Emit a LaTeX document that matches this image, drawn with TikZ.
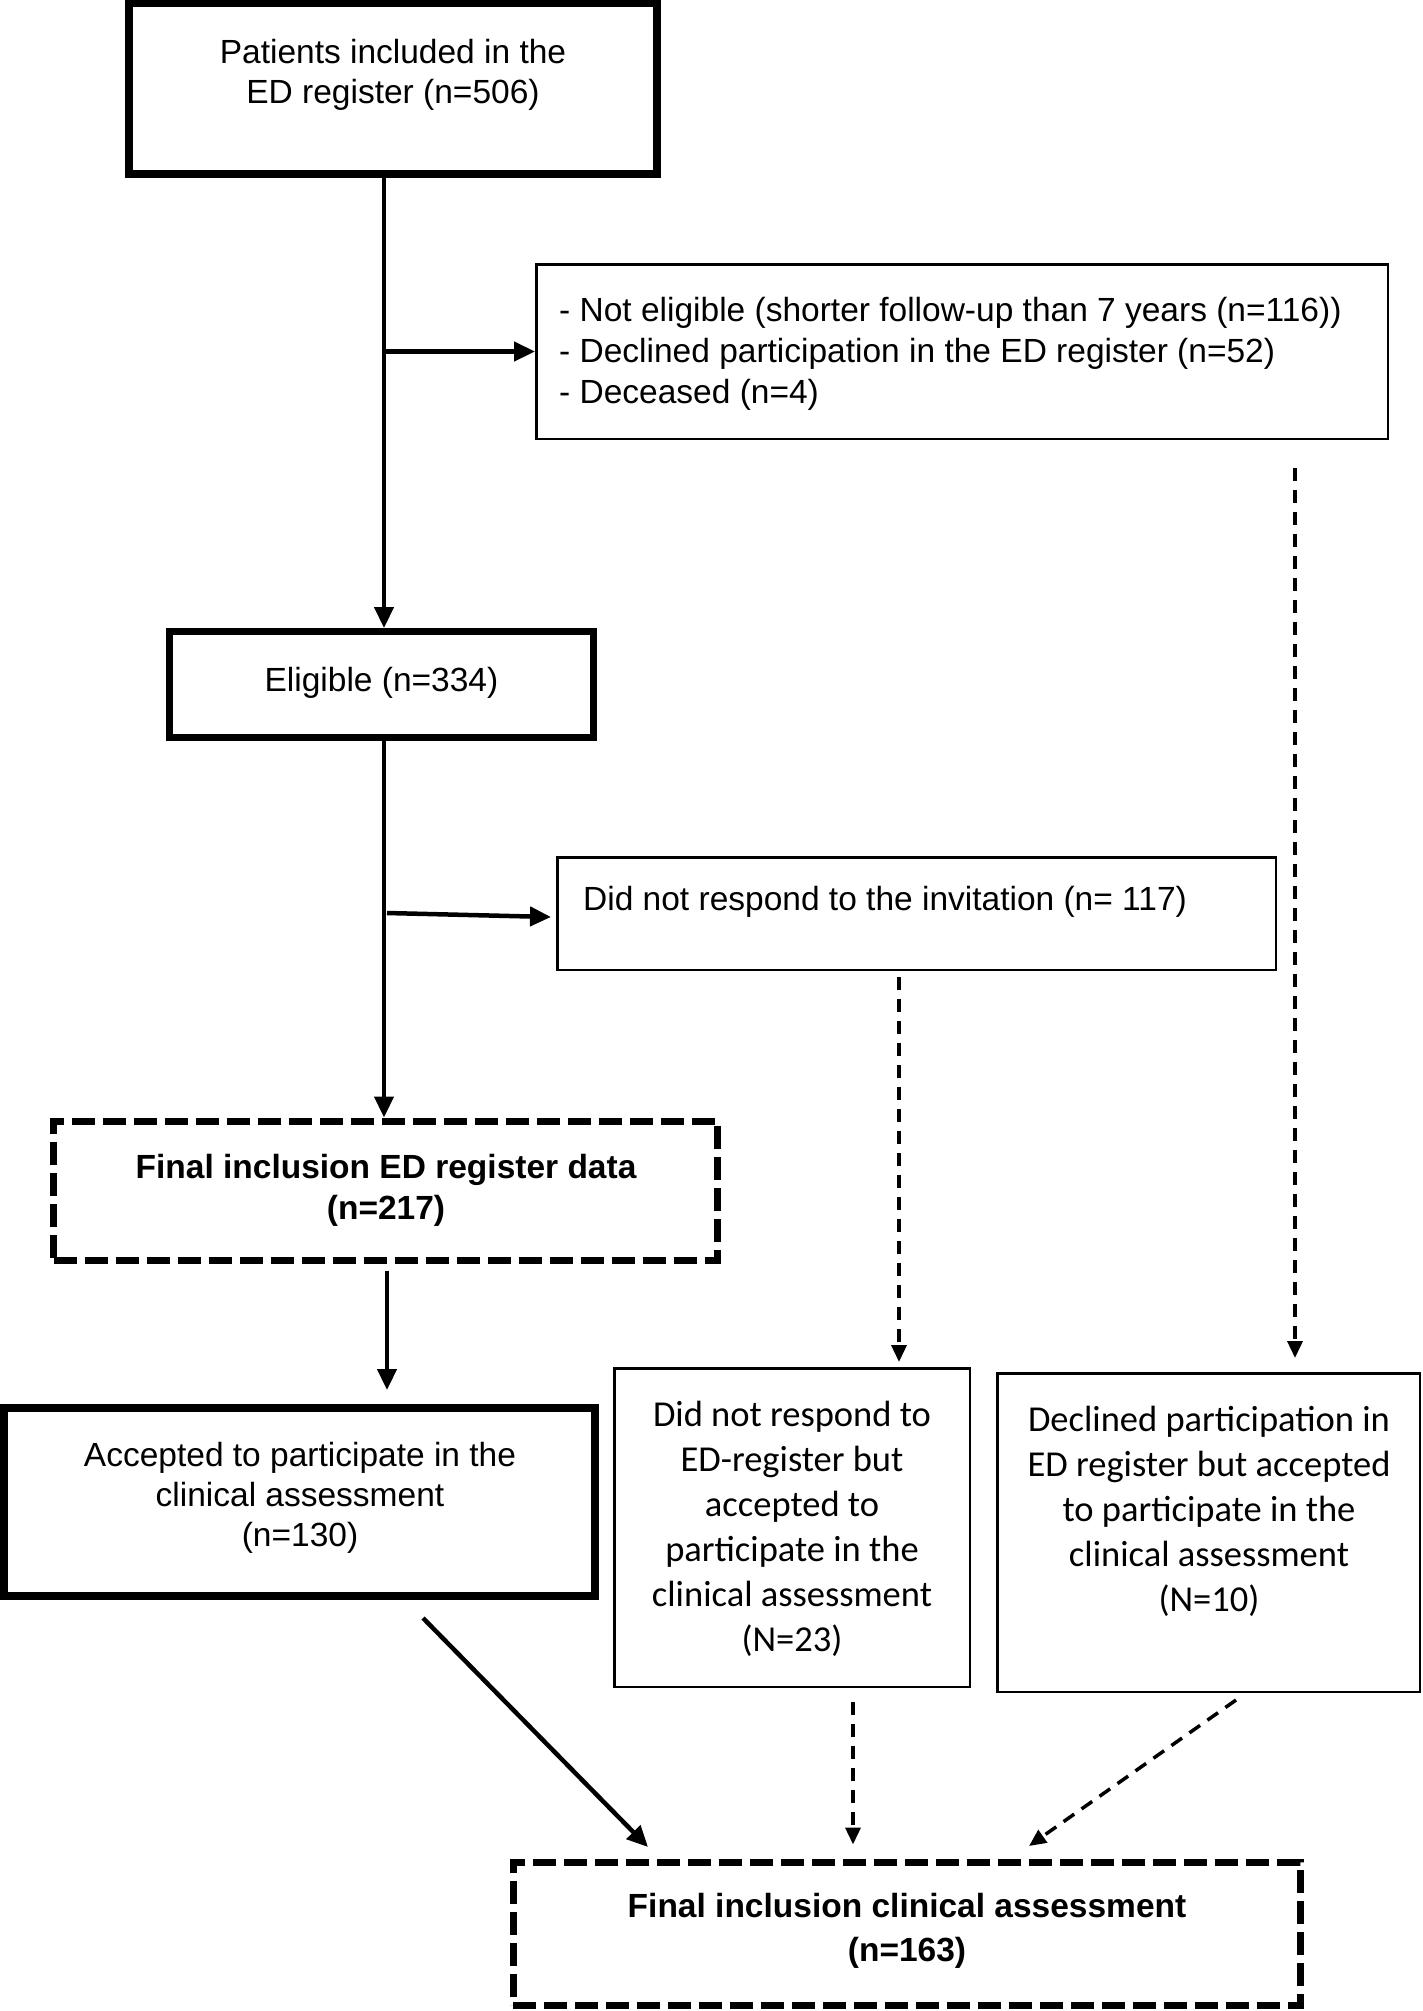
\documentclass[tikz,border=0pt]{standalone}
\usepackage{fontspec}
\newfontfamily\arialf{Liberation Sans}
\newfontfamily\calf{Carlito}
\usetikzlibrary{arrows.meta}
\begin{document}
\begin{tikzpicture}[x=1pt,y=-1pt,
  box/.style={draw, rectangle, inner sep=0pt},
  heavybox/.style={box, line width=7.5pt},
  lightbox/.style={box, line width=2.5pt},
  dashbox/.style={box, line width=7pt, dash pattern=on 23pt off 8pt},
  atxt/.style={font=\arialf\fontsize{33.5}{40}\selectfont, align=center, inner sep=0pt},
  ltxt/.style={font=\arialf\fontsize{33.5}{41}\selectfont, align=left, inner sep=0pt, anchor=west},
  btxt/.style={font=\arialf\bfseries\fontsize{33.5}{41}\selectfont, align=center, inner sep=0pt},
  ctxt/.style={font=\calf\fontsize{36.5}{45}\selectfont, align=center, inner sep=0pt},
  solidarrow/.style={line width=4.5pt, -{Triangle[length=21pt,width=19pt]}},
  dasharrow/.style={line width=3.5pt, dash pattern=on 13pt off 9pt, -{Triangle[length=17pt,width=15pt]}},
]
\useasboundingbox (0,0) rectangle (1423,2011);

% boxes
\node[heavybox, minimum width=528pt, minimum height=170.5pt] (A) at (393,88.75) {};
\node[lightbox, minimum width=851.5pt, minimum height=174.5pt] (B) at (962,351.5) {};
\node[heavybox, line width=7pt, minimum width=424pt, minimum height=106pt] (C) at (381.5,684.5) {};
\node[lightbox, minimum width=718.5pt, minimum height=112.5pt] (D) at (916.5,913.5) {};
\node[dashbox, minimum width=664pt, minimum height=139pt] (E) at (385.5,1190.5) {};
\node[heavybox, line width=8pt, minimum width=591pt, minimum height=188pt] (F) at (299.5,1502) {};
\node[lightbox, minimum width=355.5pt, minimum height=318.5pt] (G) at (792,1527.5) {};
\node[lightbox, minimum width=422.5pt, minimum height=318.5pt] (H) at (1208.5,1532.5) {};
\node[dashbox, minimum width=787pt, minimum height=143pt] (I) at (906.5,1933.5) {};

% texts
\node[atxt] (tA) at (393,75) {Patients included in the\\ED register (n=506)};
\node[ltxt] (tB) at (559,354) {- Not eligible (shorter follow-up than 7 years (n=116))\\- Declined participation in the ED register (n=52)\\- Deceased (n=4)};
\node[atxt] (tC) at (381.5,683) {Eligible (n=334)};
\node[ltxt] (tD) at (583,902) {Did not respond to the invitation (n= 117)};
\node[btxt] (tE) at (386,1190) {Final inclusion ED register data\\(n=217)};
\node[atxt] (tF) at (300,1498) {Accepted to participate in the\\clinical assessment\\(n=130)};
\node[ctxt] (tG) at (792,1529) {Did not respond to\\ED-register but\\accepted to\\participate in the\\clinical assessment\\(N=23)};
\node[ctxt] (tH) at (1209,1511) {Declined participation in\\ED register but accepted\\to participate in the\\clinical assessment\\(N=10)};
\node[btxt, font=\arialf\bfseries\fontsize{33.5}{44}\selectfont] (tI) at (907,1931) {Final inclusion clinical assessment\\(n=163)};

% helper coordinates
\coordinate (tx) at (384,0);
\coordinate (ex) at (387,0);
\coordinate (gx) at (899,0);
\coordinate (hx) at (1295,0);
\coordinate (ix) at (853,0);
\coordinate (d0) at (387,913);
\coordinate (d1) at (551,917);
\coordinate (f1) at (423,1618);
\coordinate (i1) at (648,1847);
\coordinate (h1) at (1236,1700);
\coordinate (i2) at (1029,1846);

% connectors
\draw[solidarrow] (A.south -| tx) -- (C.north -| tx);
\draw[solidarrow] (tx |- B.west) -- (B.west);
\draw[solidarrow] (C.south -| tx) -- (E.north -| tx);
\draw[solidarrow] (d0) -- (d1);
\draw[solidarrow, shorten <=7pt, shorten >=14pt] (E.south -| ex) -- (F.north -| ex);
\draw[solidarrow] (f1) -- (i1);
\draw[dasharrow, shorten <=6pt, shorten >=5pt] (D.south -| gx) -- (G.north -| gx);
\draw[dasharrow, shorten <=28pt, shorten >=14pt] (B.south -| hx) -- (H.north -| hx);
\draw[dasharrow, shorten <=14pt, shorten >=14pt] (G.south -| ix) -- (I.north -| ix);
\draw[dasharrow] (h1) -- (i2);
\end{tikzpicture}
\end{document}
